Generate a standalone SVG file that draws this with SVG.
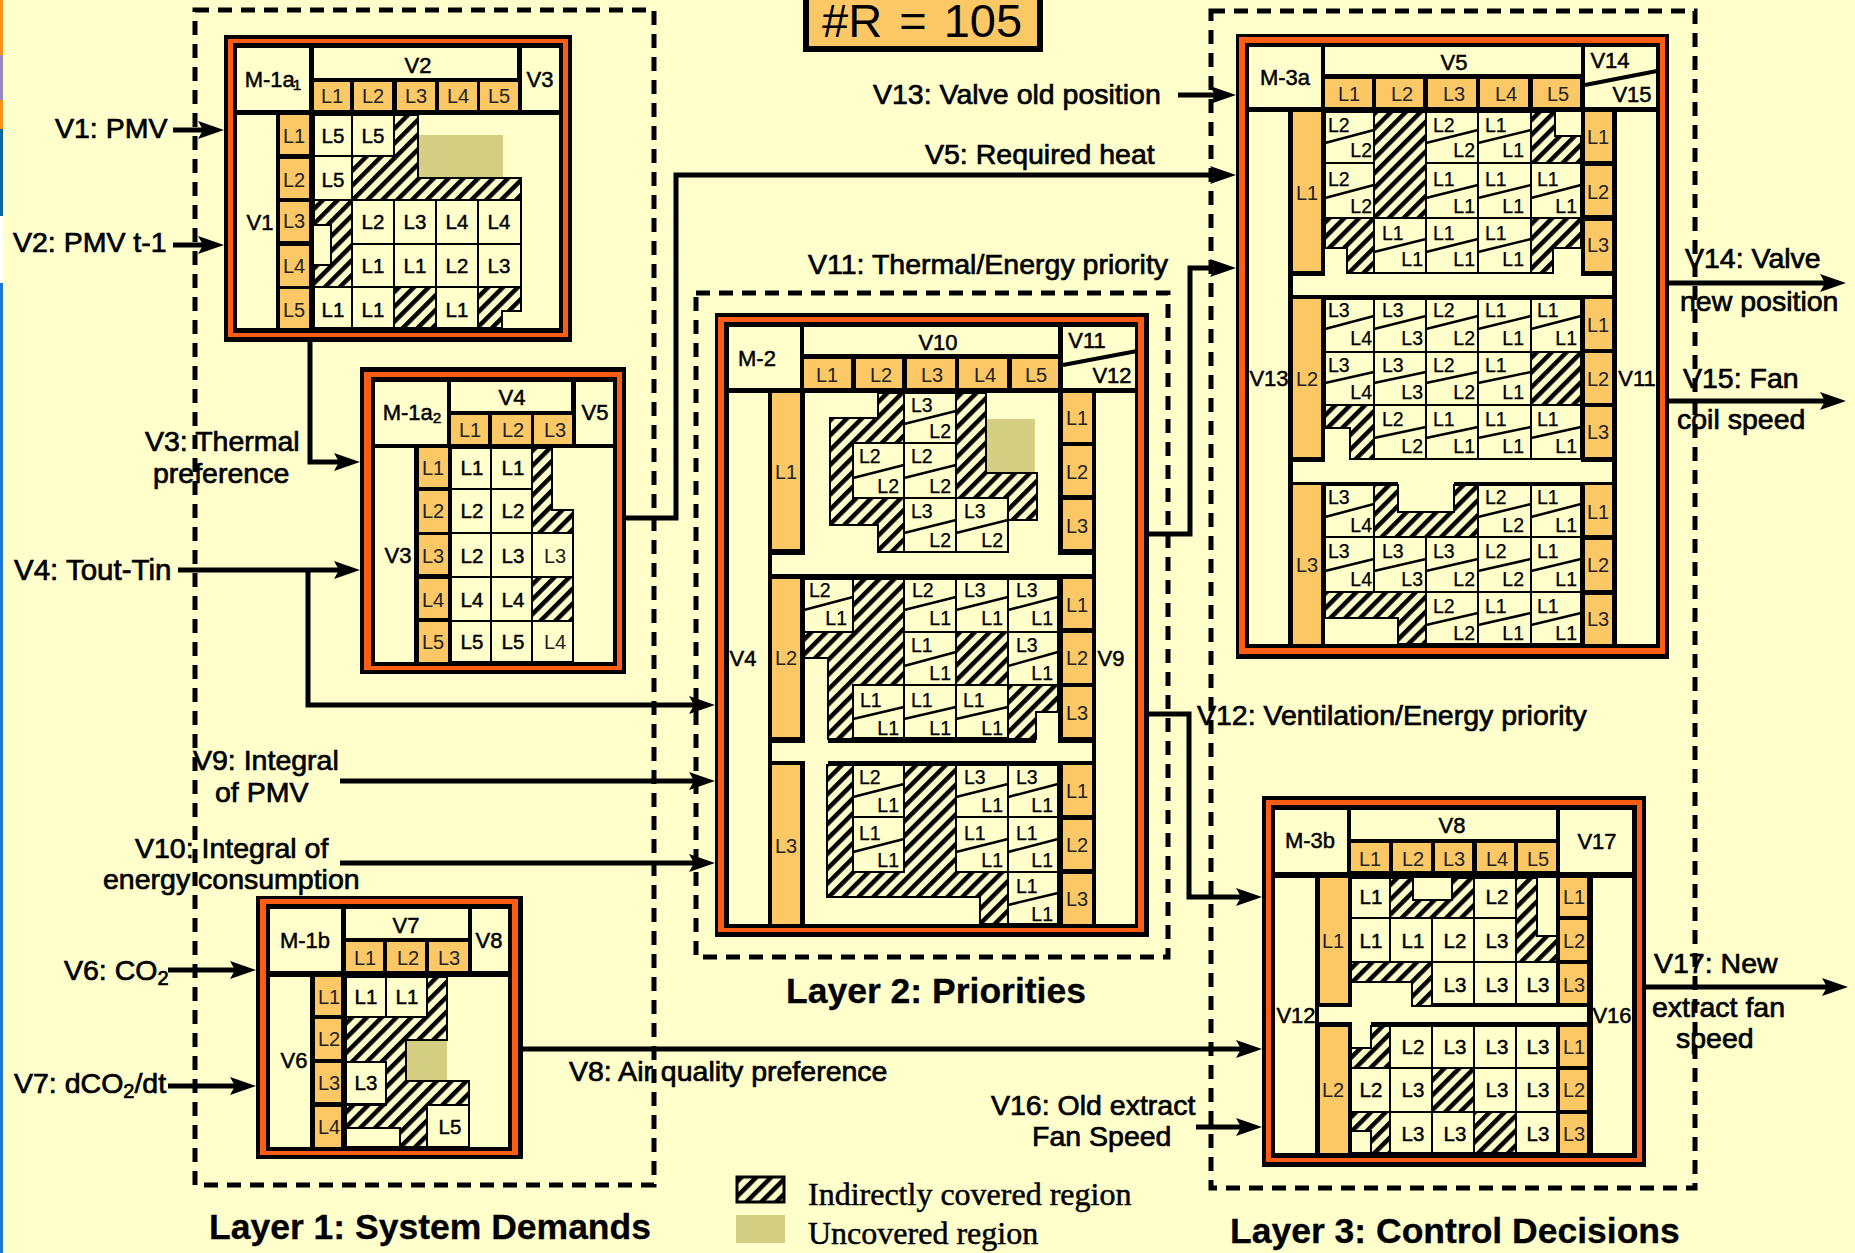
<svg xmlns="http://www.w3.org/2000/svg" width="1855" height="1253" viewBox="0 0 1855 1253">
<style>
text{font-family:"Liberation Sans",Arial,sans-serif;fill:#000}
.x{font-size:28.5px;stroke:#000;stroke-width:.7}
.t{font-size:35.5px;font-weight:bold;stroke:#000;stroke-width:.3}
.l{font-family:"Liberation Serif","Times New Roman",serif;font-size:32px;stroke:#000;stroke-width:.5}
.o text{font-size:20px;text-anchor:middle;fill:#222}
.b text{font-size:20.5px;text-anchor:middle;stroke:#000;stroke-width:.45}
.v text{font-size:22px;text-anchor:middle;stroke:#000;stroke-width:.5}
.s text{font-size:19.5px;stroke:#000;stroke-width:.25}
.e text{font-size:19.5px;text-anchor:end;stroke:#000;stroke-width:.25}
.sub{font-size:.7em}
.k{fill:#000}.r{fill:#ff5c14}.y{fill:#ffffcc}.n{fill:#fcc865}.u{fill:#d4cf82}
.h{fill:url(#h);stroke:#000;stroke-width:2}
.g{fill:none;stroke:#000;stroke-width:2}
.d{fill:none;stroke:#000;stroke-width:2.5}
.m{fill:none;stroke:#000;stroke-width:4}
.w{fill:none;stroke:#000;stroke-width:5}
.a{marker-end:url(#a)}
.z{fill:none;stroke:#000;stroke-width:5;stroke-dasharray:14 9}
</style>
<defs>
<pattern id="h" width="10.5" height="10.5" patternUnits="userSpaceOnUse" patternTransform="rotate(45)"><rect width="10.5" height="10.5" fill="#ffffcc"/><rect width="4.5" height="10.5" fill="#000"/></pattern>
<marker id="a" markerUnits="userSpaceOnUse" markerWidth="28" markerHeight="20" refX="16" refY="9" orient="auto"><path d="M0 0L26 9L0 18L5 9z" fill="#000"/></marker>
</defs>
<rect width="1855" height="1253" fill="#ffffcc"/>
<g id="edge">
<rect x="0" y="0" width="3" height="129" fill="#f9921c"/>
<rect x="0" y="55" width="3" height="45" fill="#9a88c0"/>
<rect x="0" y="129" width="3" height="87" fill="#0a6699"/>
<rect x="0" y="216" width="3" height="67" fill="#ffffff"/>
<rect x="0" y="283" width="3" height="970" fill="#1e78d2"/>
</g>
<g id="layers">
<rect class="z" x="195" y="10" width="459" height="1175"/>
<rect class="z" x="696" y="293" width="472" height="664"/>
<rect class="z" x="1211" y="11" width="484" height="1177"/>
</g>
<g id="connectors">
<path class="w a" d="M173 130H214"/>
<path class="w a" d="M173 245H214"/>
<path class="w a" d="M310 342V462H350"/>
<path class="w a" d="M178 570H350"/>
<path class="w a" d="M308 570V705H705"/>
<path class="w a" d="M340 781H705"/>
<path class="w a" d="M340 863H705"/>
<path class="w a" d="M626 518H676V175H1226"/>
<path class="w a" d="M1178 95H1226"/>
<path class="w a" d="M1149 534H1190V268H1226"/>
<path class="w a" d="M1149 714H1189V897H1252"/>
<path class="w a" d="M523 1049H1252"/>
<path class="w a" d="M1196 1127H1252"/>
<path class="w a" d="M1646 987H1838"/>
<path class="w a" d="M1669 283H1836"/>
<path class="w a" d="M1669 401H1836"/>
<path class="w a" d="M168 970H246"/>
<path class="w a" d="M168 1086H246"/>
</g>
<g id="r105">
<rect x="806" y="-10" width="234" height="59" fill="#fcc865" stroke="#000" stroke-width="6"/>
<text x="822" y="37" font-size="47" word-spacing="4">#R = 105</text>
</g>
<g id="m1a">
<rect class="k" x="224" y="35" width="348" height="307"/><rect class="r" x="228" y="39" width="340" height="298"/><rect class="k" x="233" y="43" width="330" height="290"/>
<path class="y" d="M237 48h72v62h-72zM314 48h203v30h-203zM522 48h37v62h-37zM237 115h39v213h-39zM314 115h245v213h-245z"/>
<path class="n" d="M314 82h36v28h-36zM354 82h38v28h-38zM397 82h38v28h-38zM439 82h38v28h-38zM480 82h38v28h-38zM280 115h29v39h-29zM280 159h29v39h-29zM280 202h29v39h-29zM280 246h29v40h-29zM280 289h29v39h-29z"/>
<rect class="u" x="418" y="135" width="85" height="43"/>
<path class="h" d="M394 115h24v63h103v22h-169v-44h42zM314 200h38v87h-38v-22h17v-40h-17zM394 287h42v41h-42zM478 287h43v24h-19v17h-24z"/>
<path class="g" d="M314 115h38v41h-38zM352 115h42v41h-42zM314 156h38v44h-38zM352 200h169v87h-169zM352 244h169M394 200v87M436 200v87M478 200v87M314 287h38v41h-38zM352 287h42v41h-42zM436 287h42v41h-42z"/>
<g class="o"><text x="332" y="103">L1</text><text x="373" y="103">L2</text><text x="416" y="103">L3</text><text x="458" y="103">L4</text><text x="499" y="103">L5</text><text x="294" y="143">L1</text><text x="294" y="187">L2</text><text x="294" y="228">L3</text><text x="294" y="273">L4</text><text x="294" y="317">L5</text></g>
<g class="b"><text x="333" y="143">L5</text><text x="373" y="143">L5</text><text x="333" y="187">L5</text><text x="373" y="229">L2</text><text x="415" y="229">L3</text><text x="457" y="229">L4</text><text x="499" y="229">L4</text><text x="373" y="273">L1</text><text x="415" y="273">L1</text><text x="457" y="273">L2</text><text x="499" y="273">L3</text><text x="333" y="317">L1</text><text x="373" y="317">L1</text><text x="457" y="317">L1</text></g>
<g class="v"><text x="273" y="87">M-1a<tspan class="sub" dy="3" dx="-2">1</tspan></text><text x="418" y="73">V2</text><text x="540" y="87">V3</text><text x="260" y="230">V1</text></g>
</g>
<g id="m1a2">
<rect class="k" x="360" y="367" width="266" height="307"/><rect class="r" x="364" y="372" width="258" height="298"/><rect class="k" x="371" y="377" width="246" height="289"/>
<path class="y" d="M375 382h72v62h-72zM451 382h120v29h-120zM576 382h37v62h-37zM375 448h39v214h-39zM451 448h162v214h-162z"/>
<path class="n" d="M451 415h37v29h-37zM492 415h39v29h-39zM534 415h38v29h-38zM419 448h29v39h-29zM419 491h29v41h-29zM419 535h29v39h-29zM419 579h29v39h-29zM419 622h29v40h-29z"/>
<path class="h" d="M532 448h20v62h21v23h-41zM532 577h41v44h-41z"/>
<path class="g" d="M451 448h81v214h-81zM491 448v214M451 489h81M451 533h122M451 577h122M451 621h122M532 533h41v44h-41zM532 621h41v41h-41z"/>
<g class="o"><text x="470" y="437">L1</text><text x="513" y="437">L2</text><text x="555" y="437">L3</text><text x="433" y="475">L1</text><text x="433" y="518">L2</text><text x="433" y="563">L3</text><text x="433" y="607">L4</text><text x="433" y="649">L5</text><text x="555" y="563">L3</text><text x="555" y="649">L4</text></g>
<g class="b"><text x="472" y="475">L1</text><text x="513" y="475">L1</text><text x="472" y="518">L2</text><text x="513" y="518">L2</text><text x="472" y="563">L2</text><text x="513" y="563">L3</text><text x="472" y="607">L4</text><text x="513" y="607">L4</text><text x="472" y="649">L5</text><text x="513" y="649">L5</text></g>
<g class="v"><text x="412" y="420">M-1a<tspan class="sub" dy="3">2</tspan></text><text x="512" y="405">V4</text><text x="595" y="420">V5</text><text x="398" y="563">V3</text></g>
</g>
<g id="m2">
<rect class="k" x="715" y="313" width="434" height="624"/><rect class="r" x="718" y="317" width="426" height="615"/><rect class="k" x="724" y="322" width="414" height="606"/>
<path class="y" d="M729 327h71v61h-71zM804 327h254v27h-254zM1063 327h72v61h-72zM729 393h39v531h-39zM1096 393h39v531h-39zM805 393h253v181h-253zM772 555h33v19h-33zM1058 555h34v19h-34zM805 579h253v345h-253zM772 743h33v18h-33zM1058 743h34v18h-34z"/>
<path class="k" d="M828 737h208v6h-208zM828 761h230v4h-230z"/>
<path class="n" d="M804 359h47v29h-47zM856 359h46v29h-46zM907 359h48v29h-48zM959 359h48v29h-48zM1012 359h46v29h-46zM772 393h28v156h-28zM772 579h28v158h-28zM772 765h28v159h-28zM1063 393h29v49h-29zM1063 446h29v49h-29zM1063 500h29v49h-29zM1063 579h29v49h-29zM1063 633h29v50h-29zM1063 687h29v50h-29zM1063 765h29v50h-29zM1063 820h29v49h-29zM1063 874h29v50h-29z"/>
<path class="m" d="M1063 365L1137 351"/>
<rect class="u" x="986" y="419" width="49" height="54"/>
<path class="h" d="M878 393h26v159h-26v-27h-48v-107h48zM956 393h30v80h51v47h-29v-22h-52zM853 579h51v106h-51v54h-25v-81h-24v-26h49zM956 632h52v53h-52zM1008 685h50v27h-22v27h-28zM827 765h26v107h51v-107h52v107h52v52h-28v-27h-153z"/>
<rect class="y" x="853" y="443" width="51" height="55"/>
<path class="g" d="M904 393h52v50h-52zM853 443h51v55h-51zM904 443h52v55h-52zM904 498h52v54h-52zM956 498h52v54h-52zM804 579h49v53h-49zM904 579h52v53h-52zM956 579h52v53h-52zM1008 579h50v53h-50zM904 632h52v53h-52zM1008 632h50v53h-50zM853 685h51v54h-51zM904 685h52v54h-52zM956 685h52v54h-52zM853 765h51v52h-51zM956 765h52v52h-52zM1008 765h50v52h-50zM853 817h51v55h-51zM956 817h52v55h-52zM1008 817h50v55h-50zM1008 872h50v52h-50z"/>
<path class="d" d="M904 424L956 411M853 478L904 465M904 478L956 465M904 533L956 520M956 533L1008 520M804 610L853 597M904 610L956 597M956 610L1008 597M1008 610L1058 597M904 666L956 652M1008 666L1058 652M853 719L904 707M904 719L956 707M956 719L1008 707M853 797L904 784M956 797L1008 784M1008 797L1058 784M853 852L904 839M956 852L1008 839M1008 852L1058 839M1008 905L1058 893"/>
<g class="s"><text x="911" y="412">L3</text><text x="859" y="463">L2</text><text x="911" y="463">L2</text><text x="911" y="518">L3</text><text x="964" y="518">L3</text><text x="809" y="597">L2</text><text x="912" y="597">L2</text><text x="964" y="597">L3</text><text x="1016" y="597">L3</text><text x="911" y="652">L1</text><text x="1016" y="652">L3</text><text x="860" y="707">L1</text><text x="911" y="707">L1</text><text x="963" y="707">L1</text><text x="859" y="784">L2</text><text x="964" y="784">L3</text><text x="1016" y="784">L3</text><text x="859" y="840">L1</text><text x="964" y="840">L1</text><text x="1016" y="840">L1</text><text x="1016" y="893">L1</text></g>
<g class="e"><text x="951" y="438">L2</text><text x="899" y="493">L2</text><text x="951" y="493">L2</text><text x="951" y="547">L2</text><text x="1003" y="547">L2</text><text x="847" y="625">L1</text><text x="951" y="625">L1</text><text x="1003" y="625">L1</text><text x="1053" y="625">L1</text><text x="951" y="680">L1</text><text x="1053" y="680">L1</text><text x="899" y="735">L1</text><text x="951" y="735">L1</text><text x="1003" y="735">L1</text><text x="899" y="812">L1</text><text x="1003" y="812">L1</text><text x="1053" y="812">L1</text><text x="899" y="867">L1</text><text x="1003" y="867">L1</text><text x="1053" y="867">L1</text><text x="1053" y="921">L1</text></g>
<g class="o"><text x="827" y="382">L1</text><text x="881" y="382">L2</text><text x="932" y="382">L3</text><text x="985" y="382">L4</text><text x="1036" y="382">L5</text><text x="786" y="479">L1</text><text x="786" y="665">L2</text><text x="786" y="853">L3</text><text x="1077" y="425">L1</text><text x="1077" y="479">L2</text><text x="1077" y="533">L3</text><text x="1077" y="612">L1</text><text x="1077" y="665">L2</text><text x="1077" y="720">L3</text><text x="1077" y="798">L1</text><text x="1077" y="852">L2</text><text x="1077" y="906">L3</text></g>
<g class="v"><text x="757" y="366">M-2</text><text x="938" y="350">V10</text><text x="1087" y="348">V11</text><text x="1112" y="383">V12</text><text x="743" y="666">V4</text><text x="1111" y="666">V9</text></g>
</g>
<g id="m3a">
<rect class="k" x="1236" y="34" width="433" height="625"/><rect class="r" x="1239" y="37" width="426" height="617"/><rect class="k" x="1245" y="43" width="415" height="605"/>
<path class="y" d="M1249 47h72v60h-72zM1325 47h256v27h-256zM1585 47h71v60h-71zM1249 112h39v532h-39zM1617 112h39v532h-39zM1325 112h256v183h-256zM1293 276h32v19h-32zM1581 276h31v19h-31zM1325 299h256v345h-256zM1293 462h32v20h-32zM1581 462h31v20h-31z"/>
<path class="k" d="M1325 482h73v3h-73zM1454 482h127v3h-127z"/>
<path class="n" d="M1325 79h47v28h-47zM1376 79h47v28h-47zM1428 79h48v28h-48zM1480 79h48v28h-48zM1533 79h47v28h-47zM1293 112h28v159h-28zM1293 299h28v158h-28zM1293 485h28v159h-28zM1585 112h27v49h-27zM1585 166h27v49h-27zM1585 221h27v50h-27zM1585 299h27v50h-27zM1585 353h27v50h-27zM1585 407h27v50h-27zM1585 485h27v50h-27zM1585 540h27v50h-27zM1585 595h27v49h-27z"/>
<path class="m" d="M1585 85L1657 71"/>
<path class="h" d="M1374 112h52v106h-52zM1531 112h24v24h26v27h-50zM1325 218h49v55h-27v-25h-22zM1531 218h50v30h-28v25h-22zM1531 352h50v53h-50zM1325 405h49v54h-24v-31h-25zM1374 485h24v27h56v-27h24v52h-104zM1325 592h101v52h-28v-26h-73z"/>
<path class="g" d="M1325 112h49v51h-49zM1426 112h52v51h-52zM1478 112h53v51h-53zM1325 163h49v55h-49zM1426 163h52v55h-52zM1478 163h53v55h-53zM1531 163h50v55h-50zM1374 218h52v55h-52zM1426 218h52v55h-52zM1478 218h53v55h-53zM1325 299h49v53h-49zM1374 299h52v53h-52zM1426 299h52v53h-52zM1478 299h53v53h-53zM1531 299h50v53h-50zM1325 352h49v53h-49zM1374 352h52v53h-52zM1426 352h52v53h-52zM1478 352h53v53h-53zM1374 405h52v54h-52zM1426 405h52v54h-52zM1478 405h53v54h-53zM1531 405h50v54h-50zM1325 485h49v52h-49zM1478 485h53v52h-53zM1531 485h50v52h-50zM1325 537h49v55h-49zM1374 537h52v55h-52zM1426 537h52v55h-52zM1478 537h53v55h-53zM1531 537h50v55h-50zM1426 592h52v52h-52zM1478 592h53v52h-53zM1531 592h50v52h-50z"/>
<path class="d" d="M1325 143L1374 130M1426 143L1478 130M1478 143L1531 130M1325 198L1374 185M1426 198L1478 185M1478 198L1531 185M1531 198L1581 185M1374 252L1426 239M1426 252L1478 239M1478 252L1531 239M1325 329L1374 316M1374 329L1426 316M1426 329L1478 316M1478 329L1531 316M1531 329L1581 316M1325 383L1374 372M1374 383L1426 372M1426 383L1478 372M1478 383L1531 372M1374 438L1426 427M1426 438L1478 427M1478 438L1531 427M1531 438L1581 427M1325 517L1374 504M1478 517L1531 504M1531 517L1581 504M1325 571L1374 559M1374 571L1426 559M1426 571L1478 559M1478 571L1531 559M1531 571L1581 559M1426 625L1478 613M1478 625L1531 613M1531 625L1581 613"/>
<g class="s"><text x="1328" y="132">L2</text><text x="1433" y="132">L2</text><text x="1485" y="132">L1</text><text x="1328" y="186">L2</text><text x="1433" y="186">L1</text><text x="1485" y="186">L1</text><text x="1537" y="186">L1</text><text x="1382" y="240">L1</text><text x="1433" y="240">L1</text><text x="1485" y="240">L1</text><text x="1328" y="317">L3</text><text x="1382" y="317">L3</text><text x="1433" y="317">L2</text><text x="1485" y="317">L1</text><text x="1537" y="317">L1</text><text x="1328" y="372">L3</text><text x="1382" y="372">L3</text><text x="1433" y="372">L2</text><text x="1485" y="372">L1</text><text x="1382" y="426">L2</text><text x="1433" y="426">L1</text><text x="1485" y="426">L1</text><text x="1537" y="426">L1</text><text x="1328" y="504">L3</text><text x="1485" y="504">L2</text><text x="1537" y="504">L1</text><text x="1328" y="558">L3</text><text x="1382" y="558">L3</text><text x="1433" y="558">L3</text><text x="1485" y="558">L2</text><text x="1537" y="558">L1</text><text x="1433" y="613">L2</text><text x="1485" y="613">L1</text><text x="1537" y="613">L1</text></g>
<g class="e"><text x="1372" y="157">L2</text><text x="1475" y="157">L2</text><text x="1524" y="157">L1</text><text x="1372" y="213">L2</text><text x="1475" y="213">L1</text><text x="1524" y="213">L1</text><text x="1577" y="213">L1</text><text x="1423" y="266">L1</text><text x="1475" y="266">L1</text><text x="1524" y="266">L1</text><text x="1372" y="345">L4</text><text x="1423" y="345">L3</text><text x="1475" y="345">L2</text><text x="1524" y="345">L1</text><text x="1577" y="345">L1</text><text x="1372" y="399">L4</text><text x="1423" y="399">L3</text><text x="1475" y="399">L2</text><text x="1524" y="399">L1</text><text x="1423" y="453">L2</text><text x="1475" y="453">L1</text><text x="1524" y="453">L1</text><text x="1577" y="453">L1</text><text x="1372" y="532">L4</text><text x="1524" y="532">L2</text><text x="1577" y="532">L1</text><text x="1372" y="586">L4</text><text x="1423" y="586">L3</text><text x="1475" y="586">L2</text><text x="1524" y="586">L2</text><text x="1577" y="586">L1</text><text x="1475" y="640">L2</text><text x="1524" y="640">L1</text><text x="1577" y="640">L1</text></g>
<g class="o"><text x="1349" y="101">L1</text><text x="1402" y="101">L2</text><text x="1454" y="101">L3</text><text x="1506" y="101">L4</text><text x="1558" y="101">L5</text><text x="1307" y="200">L1</text><text x="1307" y="386">L2</text><text x="1307" y="572">L3</text><text x="1598" y="144">L1</text><text x="1598" y="199">L2</text><text x="1598" y="252">L3</text><text x="1598" y="332">L1</text><text x="1598" y="386">L2</text><text x="1598" y="439">L3</text><text x="1598" y="519">L1</text><text x="1598" y="572">L2</text><text x="1598" y="626">L3</text></g>
<g class="v"><text x="1285" y="85">M-3a</text><text x="1454" y="70">V5</text><text x="1610" y="68">V14</text><text x="1632" y="102">V15</text><text x="1269" y="386">V13</text><text x="1637" y="386">V11</text></g>
</g>
<g id="m3b">
<rect class="k" x="1262" y="796" width="384" height="371"/><rect class="r" x="1266" y="800" width="376" height="362"/><rect class="k" x="1271" y="805" width="366" height="353"/>
<path class="y" d="M1275 810h72v62h-72zM1351 810h205v29h-205zM1560 810h72v62h-72zM1275 878h40v275h-40zM1593 878h39v275h-39zM1352 878h204v275h-204zM1319 1007h33v15h-33zM1556 1007h31v15h-31z"/>
<path class="k" d="M1412 1003h144v4h-144zM1371 1022h185v4h-185z"/>
<path class="n" d="M1351 843h38v28h-38zM1393 843h38v28h-38zM1435 843h37v28h-37zM1477 843h37v28h-37zM1518 843h38v28h-38zM1320 878h28v125h-28zM1320 1027h28v126h-28zM1560 878h27v38h-27zM1560 920h27v40h-27zM1560 964h27v39h-27zM1560 1027h27v39h-27zM1560 1070h27v40h-27zM1560 1114h27v39h-27z"/>
<path class="h" d="M1390 878h23v22h39v-22h22v40h-84zM1516 878h21v58h20v26h-41zM1351 962h81v44h-20v-24h-61zM1371 1026h19v42h-39v-20h20zM1432 1068h42v44h-42zM1351 1112h39v41h-19v-22h-20zM1474 1112h42v41h-42z"/>
<path class="g" d="M1351 878h39v40h-39zM1474 878h42v40h-42zM1351 918h39v44h-39zM1390 918h42v44h-42zM1432 918h42v44h-42zM1474 918h42v44h-42zM1432 962h42v44h-42zM1474 962h42v44h-42zM1516 962h41v44h-41zM1390 1026h42v42h-42zM1432 1026h42v42h-42zM1474 1026h42v42h-42zM1516 1026h41v42h-41zM1351 1068h39v44h-39zM1390 1068h42v44h-42zM1474 1068h42v44h-42zM1516 1068h41v44h-41zM1390 1112h42v41h-42zM1432 1112h42v41h-42zM1516 1112h41v41h-41zM1351 1131h20v22h-20z"/>
<g class="o"><text x="1370" y="866">L1</text><text x="1413" y="866">L2</text><text x="1454" y="866">L3</text><text x="1497" y="866">L4</text><text x="1538" y="866">L5</text><text x="1333" y="948">L1</text><text x="1333" y="1097">L2</text><text x="1574" y="904">L1</text><text x="1574" y="948">L2</text><text x="1574" y="992">L3</text><text x="1574" y="1054">L1</text><text x="1574" y="1097">L2</text><text x="1574" y="1141">L3</text></g>
<g class="b"><text x="1371" y="904">L1</text><text x="1497" y="904">L2</text><text x="1371" y="948">L1</text><text x="1413" y="948">L1</text><text x="1455" y="948">L2</text><text x="1497" y="948">L3</text><text x="1455" y="992">L3</text><text x="1497" y="992">L3</text><text x="1538" y="992">L3</text><text x="1413" y="1054">L2</text><text x="1455" y="1054">L3</text><text x="1497" y="1054">L3</text><text x="1538" y="1054">L3</text><text x="1371" y="1097">L2</text><text x="1413" y="1097">L3</text><text x="1497" y="1097">L3</text><text x="1538" y="1097">L3</text><text x="1413" y="1141">L3</text><text x="1455" y="1141">L3</text><text x="1538" y="1141">L3</text></g>
<g class="v"><text x="1310" y="848">M-3b</text><text x="1452" y="833">V8</text><text x="1597" y="849">V17</text><text x="1296" y="1023">V12</text><text x="1612" y="1023">V16</text></g>
</g>
<g id="m1b">
<rect class="k" x="256" y="896" width="267" height="263"/><rect class="r" x="260" y="899" width="258" height="256"/><rect class="k" x="266" y="904" width="246" height="247"/>
<path class="y" d="M270 909h71v62h-71zM346 909h122v29h-122zM472 909h36v62h-36zM270 977h40v170h-40zM346 977h162v170h-162z"/>
<path class="n" d="M346 942h37v29h-37zM387 942h38v29h-38zM429 942h39v29h-39zM315 977h26v38h-26zM315 1019h26v40h-26zM315 1063h26v39h-26zM315 1107h26v40h-26z"/>
<rect class="u" x="406" y="1040" width="41" height="41"/>
<path class="h" d="M427 977H447V1040H406V1081H469V1105H427V1147H400V1128H346V1105H386V1062H346V1017H427z"/>
<path class="g" d="M346 977h40v40h-40zM386 977h41v40h-41zM346 1062h40v42h-40zM427 1105h42v42h-42zM346 1128h54v19h-54z"/>
<g class="o"><text x="365" y="965">L1</text><text x="408" y="965">L2</text><text x="449" y="965">L3</text><text x="329" y="1004">L1</text><text x="329" y="1046">L2</text><text x="329" y="1090">L3</text><text x="329" y="1134">L4</text></g>
<g class="b"><text x="366" y="1004">L1</text><text x="407" y="1004">L1</text><text x="366" y="1090">L3</text><text x="450" y="1134">L5</text></g>
<g class="v"><text x="305" y="948">M-1b</text><text x="406" y="933">V7</text><text x="489" y="948">V8</text><text x="294" y="1068">V6</text></g>
</g>
<g id="labels">
<text class="x" x="55" y="138">V1: PMV</text>
<text class="x" x="13" y="252">V2: PMV t-1</text>
<text class="x" x="145" y="451">V3: Thermal</text>
<text class="x" x="153" y="483">preference</text>
<text class="x" x="14" y="580" font-size="29.5" style="font-size:29.5px">V4: Tout-Tin</text>
<text class="x" x="925" y="164">V5: Required heat</text>
<text class="x" x="873" y="104">V13: Valve old position</text>
<text class="x" x="808" y="274">V11: Thermal/Energy priority</text>
<text class="x" x="1197" y="725">V12: Ventilation/Energy priority</text>
<text class="x" x="193" y="770">V9: Integral</text>
<text class="x" x="215" y="802">of PMV</text>
<text class="x" x="135" y="858">V10: Integral of</text>
<text class="x" x="103" y="889">energy consumption</text>
<text class="x" x="64" y="980">V6: CO<tspan class="sub" dy="5">2</tspan></text>
<text class="x" x="14" y="1093">V7: dCO<tspan class="sub" dy="5">2</tspan><tspan dy="-5">/dt</tspan></text>
<text class="x" x="569" y="1081">V8: Air quality preference</text>
<text class="x" x="991" y="1115">V16: Old extract</text>
<text class="x" x="1032" y="1146">Fan Speed</text>
<text class="x" x="1654" y="973">V17: New</text>
<text class="x" x="1652" y="1017">extract fan</text>
<text class="x" x="1676" y="1048">speed</text>
<text class="x" x="1685" y="268">V14: Valve</text>
<text class="x" x="1680" y="311">new position</text>
<text class="x" x="1683" y="388">V15: Fan</text>
<text class="x" x="1677" y="429">coil speed</text>
<text class="t" x="209" y="1239">Layer 1: System Demands</text>
<text class="t" x="786" y="1003">Layer 2: Priorities</text>
<text class="t" x="1230" y="1243">Layer 3: Control Decisions</text>
</g>
<g id="legend">
<rect x="737" y="1177" width="47" height="25" fill="url(#h)" stroke="#000" stroke-width="3"/>
<rect class="u" x="736" y="1215" width="49" height="28"/>
<text class="l" x="808" y="1205">Indirectly covered region</text>
<text class="l" x="808" y="1244">Uncovered region</text>
</g>
</svg>
